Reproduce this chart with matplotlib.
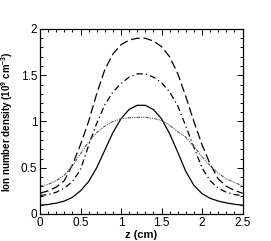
import matplotlib
matplotlib.use("Agg")
import matplotlib.pyplot as plt
from matplotlib.ticker import MultipleLocator

plt.rcParams['font.family'] = ['Liberation Sans', 'DejaVu Sans']
plt.rcParams['mathtext.fontset'] = 'custom'
plt.rcParams['mathtext.rm'] = 'Liberation Sans:bold'
plt.rcParams['mathtext.default'] = 'rm'

# axial position (cm)
z = [0.0, 0.1, 0.2, 0.3, 0.4, 0.5, 0.6, 0.7, 0.8, 0.9, 1.0, 1.1, 1.2,
     1.3, 1.4, 1.5, 1.6, 1.7, 1.8, 1.9, 2.0, 2.1, 2.2, 2.3, 2.4, 2.5]

# ion number density (1e9 cm^-3)
n_solid = [0.095, 0.103, 0.117, 0.14, 0.18, 0.25, 0.35, 0.5, 0.69, 0.88, 1.03, 1.13, 1.175,
           1.175, 1.13, 1.03, 0.87, 0.67, 0.46, 0.31, 0.22, 0.17, 0.14, 0.12, 0.105, 0.095]
n_dash = [0.225, 0.25, 0.29, 0.36, 0.53, 0.75, 1.0, 1.3, 1.56, 1.73, 1.83, 1.88, 1.9,
          1.9, 1.87, 1.81, 1.7, 1.52, 1.27, 1.0, 0.75, 0.54, 0.38, 0.3, 0.255, 0.225]
n_dashdot = [0.2, 0.21, 0.235, 0.28, 0.35, 0.48, 0.74, 0.98, 1.18, 1.32, 1.41, 1.48, 1.515,
             1.515, 1.48, 1.42, 1.32, 1.17, 0.95, 0.72, 0.5, 0.36, 0.28, 0.235, 0.21, 0.2]
n_dotted = [0.3, 0.32, 0.36, 0.42, 0.52, 0.65, 0.78, 0.88, 0.95, 1.0, 1.03, 1.04, 1.045,
            1.045, 1.035, 1.01, 0.96, 0.89, 0.83, 0.73, 0.62, 0.52, 0.44, 0.38, 0.34, 0.305]

xticks = [0, 0.5, 1, 1.5, 2, 2.5]
xtick_labels = ['0', '0.5', '1', '1.5', '2', '2.5']
yticks = [0, 0.5, 1, 1.5, 2]
ytick_labels = ['0', '0.5', '1', '1.5', '2']

fig = plt.figure(figsize=(2.71, 2.41), dpi=100)
ax = fig.add_axes([40 / 271, 1 - 214 / 241, 202.5 / 271, 185 / 241])

# the four profiles
ax.plot(z, n_solid, color='black', lw=0.9, linestyle='-')
ax.plot(z, n_dash, color='black', lw=0.9, linestyle=(0, (7, 3)))
ax.plot(z, n_dashdot, color='black', lw=0.9, linestyle=(0, (5, 2.5, 1, 2.5)))
ax.plot(z, n_dotted, color='#555555', lw=0.8, linestyle=(0, (3, 1, 1, 1, 1, 1)))

ax.set_xlim(0, 2.5)
ax.set_ylim(0, 2)
ax.set_xticks(xticks)
ax.set_xticklabels(xtick_labels)
ax.set_yticks(yticks)
ax.set_yticklabels(ytick_labels)
ax.xaxis.set_minor_locator(MultipleLocator(0.1))
ax.yaxis.set_minor_locator(MultipleLocator(0.1))
ax.tick_params(which='both', direction='in', top=True, right=True, labelsize=8.5, width=0.7)
ax.tick_params(which='major', length=4, pad=2)
ax.tick_params(which='minor', length=2)
for s in ax.spines.values():
    s.set_linewidth(0.9)

ax.set_xlabel('z (cm)', fontsize=8, fontweight='bold', labelpad=1)
ax.set_ylabel('Ion number density (10$^9$ cm$^{-3}$)', fontsize=7, fontweight='bold', labelpad=4)

fig.savefig('out.png', dpi=100)
